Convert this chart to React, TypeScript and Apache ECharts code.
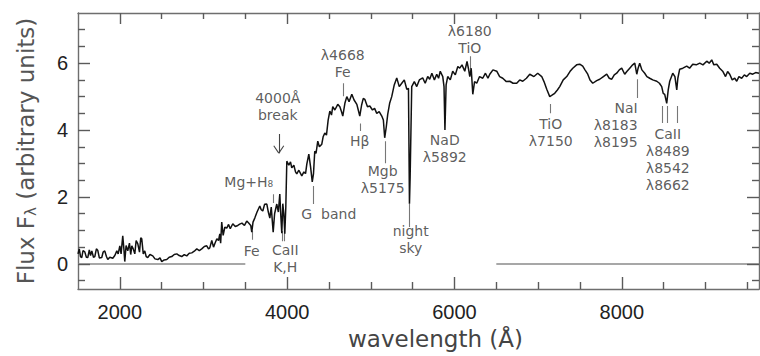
import React, { useEffect, useRef } from "react";
import * as echarts from "echarts";

const X_MIN = 1500;
const X_MAX = 9640;
const Y_MIN = -0.75;
const Y_MAX = 7.5;

const xMajorTicks = [2000, 4000, 6000, 8000];
const xMinorTicks = [2500, 3000, 3500, 4500, 5000, 5500, 6500, 7000, 7500, 8500, 9000, 9500];
const yMajorTicks = [0, 2, 4, 6];
const yMinorTicks = [-0.5, 0.5, 1, 1.5, 2.5, 3, 3.5, 4.5, 5, 5.5, 6.5, 7];

const spectrum: [number, number][] = [
  [1500, 0.3], [1515, 0.45], [1530, 0.22], [1545, 0.19], [1560, 0.4], [1581, 0.36], [1600, 0.2], [1617, 0.19],
  [1635, 0.42], [1650, 0.25], [1665, 0.39], [1685, 0.2], [1701, 0.22], [1720, 0.45], [1737, 0.4], [1755, 0.18],
  [1784, 0.19], [1800, 0.35], [1820, 0.39], [1840, 0.22], [1856, 0.13], [1880, 0.2], [1916, 0.17], [1940, 0.25],
  [1964, 0.39], [1980, 0.3], [2000, 0.54], [2015, 0.3], [2035, 0.84], [2050, 0.4], [2059, 0.07], [2075, 0.55],
  [2095, 0.39], [2115, 0.62], [2130, 0.28], [2143, 0.54], [2160, 0.45], [2179, 0.3], [2195, 0.7], [2215, 0.6],
  [2235, 0.35], [2250, 0.78], [2262, 0.75], [2280, 0.3], [2298, 0.39], [2315, 0.22], [2334, 0.19], [2360, 0.28],
  [2394, 0.24], [2420, 0.15], [2454, 0.13], [2480, 0.18], [2501, 0.07], [2530, 0.12], [2561, 0.13], [2590, 0.2],
  [2621, 0.22], [2650, 0.28], [2681, 0.3], [2710, 0.25], [2740, 0.22], [2770, 0.28], [2800, 0.24], [2830, 0.32],
  [2860, 0.33], [2890, 0.38], [2920, 0.45], [2950, 0.4], [2979, 0.45], [3010, 0.52], [3039, 0.54], [3060, 0.45],
  [3075, 0.48], [3099, 0.7], [3120, 0.5], [3135, 0.6], [3160, 0.75], [3180, 0.7], [3195, 0.9], [3205, 0.62],
  [3218, 1.25], [3235, 0.85], [3255, 1.1], [3278, 1.07], [3300, 1.18], [3320, 1.05], [3350, 1.2], [3380, 1.12],
  [3410, 1.15], [3433, 1.19], [3460, 1.22], [3490, 1.15], [3517, 1.28], [3540, 1.22], [3565, 1.15], [3577, 0.95],
  [3592, 1.25], [3613, 1.37], [3640, 1.55], [3673, 1.73], [3690, 1.62], [3709, 1.58], [3730, 1.78], [3757, 1.79],
  [3775, 1.55], [3793, 1.37], [3810, 1.7], [3822, 1.3], [3833, 0.95], [3850, 1.5], [3876, 1.79], [3895, 1.55],
  [3912, 2.09], [3925, 1.4], [3936, 0.92], [3948, 1.8], [3960, 1.5], [3972, 0.9], [3984, 1.7], [3996, 3.07],
  [4020, 2.95], [4040, 3.05], [4055, 2.87], [4080, 2.95], [4100, 2.75], [4115, 2.69], [4140, 2.8], [4175, 2.63],
  [4200, 2.75], [4220, 2.7], [4235, 2.98], [4259, 3.28], [4280, 2.9], [4300, 2.45], [4315, 2.7], [4330, 3.37],
  [4345, 3.3], [4366, 3.67], [4385, 3.5], [4414, 3.58], [4430, 3.8], [4450, 3.91], [4470, 3.85], [4490, 4.3],
  [4510, 4.57], [4530, 4.45], [4545, 4.7], [4570, 4.6], [4605, 4.77], [4630, 4.7], [4650, 4.55], [4665, 4.42],
  [4690, 4.8], [4713, 5.0], [4740, 4.85], [4773, 5.07], [4800, 4.9], [4833, 4.77], [4850, 4.6], [4868, 4.42],
  [4890, 4.75], [4910, 4.95], [4928, 4.92], [4960, 4.7], [4988, 4.72], [5020, 4.6], [5045, 4.65], [5071, 4.5],
  [5100, 4.55], [5131, 4.42], [5150, 4.3], [5166, 3.77], [5185, 4.1], [5202, 4.47], [5225, 4.8], [5250, 5.0],
  [5280, 5.35], [5310, 5.56], [5340, 5.3], [5370, 5.4], [5400, 5.5], [5430, 5.22], [5450, 5.25], [5462, 1.8],
  [5470, 2.6], [5489, 5.3], [5520, 5.45], [5549, 5.3], [5580, 5.5], [5620, 5.56], [5650, 5.4], [5680, 5.6],
  [5704, 5.52], [5730, 5.7], [5760, 5.5], [5788, 5.67], [5810, 5.55], [5830, 5.76], [5860, 5.6], [5875, 5.3],
  [5886, 4.0], [5900, 5.35], [5919, 5.6], [5950, 5.5], [5979, 5.76], [6010, 5.65], [6040, 5.9], [6063, 5.85],
  [6090, 5.95], [6123, 5.76], [6150, 6.05], [6170, 5.8], [6183, 5.6], [6200, 5.85], [6219, 5.07], [6240, 5.45],
  [6266, 5.4], [6300, 5.6], [6338, 5.55], [6370, 5.7], [6400, 5.55], [6422, 5.67], [6460, 5.8], [6505, 5.76],
  [6540, 5.6], [6577, 5.55], [6620, 5.45], [6661, 5.46], [6700, 5.4], [6744, 5.4], [6780, 5.5], [6816, 5.46],
  [6860, 5.55], [6900, 5.67], [6950, 5.6], [6995, 5.7], [7043, 5.6], [7070, 5.45], [7103, 5.22], [7139, 5.0],
  [7170, 5.05], [7198, 5.1], [7230, 5.2], [7258, 5.3], [7300, 5.5], [7342, 5.6], [7380, 5.75], [7414, 5.85],
  [7460, 5.95], [7497, 5.97], [7533, 5.91], [7560, 5.8], [7593, 5.67], [7620, 5.5], [7653, 5.4], [7700, 5.48],
  [7736, 5.52], [7780, 5.6], [7820, 5.67], [7850, 5.55], [7880, 5.52], [7910, 5.65], [7939, 5.7], [7970, 5.8],
  [7999, 5.85], [8035, 5.67], [8060, 5.75], [8095, 5.85], [8130, 5.95], [8155, 6.0], [8179, 5.67], [8195, 5.85],
  [8214, 6.0], [8240, 5.8], [8274, 5.7], [8300, 5.6], [8334, 5.55], [8370, 5.5], [8418, 5.46], [8450, 5.4],
  [8477, 5.3], [8495, 5.1], [8513, 5.07], [8537, 4.8], [8555, 5.2], [8573, 5.46], [8609, 5.7], [8635, 5.6],
  [8657, 5.2], [8670, 5.55], [8692, 5.82], [8730, 5.85], [8776, 5.91], [8810, 5.85], [8848, 5.97], [8890, 5.95],
  [8932, 6.0], [8970, 5.95], [9015, 6.06], [9045, 6.0], [9075, 6.1], [9100, 5.95], [9135, 5.97], [9170, 5.85],
  [9206, 5.76], [9240, 5.6], [9265, 5.75], [9290, 5.67], [9320, 5.5], [9350, 5.55], [9374, 5.46], [9400, 5.6],
  [9433, 5.55], [9465, 5.65], [9493, 5.6], [9530, 5.7], [9565, 5.67], [9600, 5.72], [9640, 5.7],
];

// zero-level reference segments [from, to] in wavelength
const zeroSegments: [number, number][] = [[1500, 3500], [6500, 9640]];

// feature tick marks: [wavelength, top flux, bottom flux]
const featureMarks: [number, number, number][] = [
  [3577, 1.0, 0.72],
  [3833, 2.08, 1.82],
  [3936, 0.98, 0.68],
  [3971, 0.98, 0.68],
  [4306, 2.33, 1.79],
  [4665, 5.4, 5.01],
  [4868, 4.2, 3.97],
  [5175, 3.67, 3.01],
  [5465, 1.8, 1.1],
  [6183, 6.21, 5.82],
  [7150, 4.78, 4.5],
  [8190, 5.52, 4.96],
  [8489, 4.72, 4.21],
  [8542, 4.72, 4.21],
  [8662, 4.72, 4.21],
];

// 4000 Å break arrow: [wavelength, top, bottom]
const breakArrow: [number, number, number] = [3900, 3.88, 3.31];

const annotations: { text: string; x: number; y: number; align?: string }[] = [
  { text: "Mg+H\u2088", x: 3541, y: 2.45 },
  { text: "Fe", x: 3577, y: 0.39 },
  { text: "CaII\nK,H", x: 3977, y: 0.16 },
  { text: "4000Å\nbreak", x: 3888, y: 4.72 },
  { text: "G  band", x: 4498, y: 1.49 },
  { text: "λ4668\nFe", x: 4665, y: 5.99 },
  { text: "Hβ", x: 4868, y: 3.67 },
  { text: "Mgb\nλ5175", x: 5142, y: 2.52 },
  { text: "night\nsky", x: 5477, y: 0.72 },
  { text: "NaD\nλ5892", x: 5884, y: 3.46 },
  { text: "λ6180\nTiO", x: 6183, y: 6.7 },
  { text: "TiO\nλ7150", x: 7151, y: 3.93 },
  { text: "NaI\nλ8183\nλ8195", x: 8190, y: 4.16, align: "right" },
  { text: "CaII\nλ8489\nλ8542\nλ8662", x: 8550, y: 3.13 },
];

const FRAME = "#6e6e6e";
const TICK = "#5a5a5a";
// plot area in pixels, used only to turn tick lengths (px) into axis units
const PLOT_W = 681;
const PLOT_H = 276;

export default function App() {
  const ref = useRef<HTMLDivElement>(null);

  useEffect(() => {
    if (!ref.current) return;
    document.body.style.margin = "0";
    const chart = echarts.init(ref.current, undefined, { renderer: "svg" });

    const ux = (X_MAX - X_MIN) / PLOT_W;
    const uy = (Y_MAX - Y_MIN) / PLOT_H;

    const frameTicks: any[] = [];
    xMajorTicks.forEach((v) => {
      frameTicks.push({ coords: [[v, Y_MIN], [v, Y_MIN + 12 * uy]] });
      frameTicks.push({ coords: [[v, Y_MAX], [v, Y_MAX - 11 * uy]] });
    });
    xMinorTicks.forEach((v) => {
      frameTicks.push({ coords: [[v, Y_MIN], [v, Y_MIN + 7 * uy]] });
      frameTicks.push({ coords: [[v, Y_MAX], [v, Y_MAX - 6 * uy]] });
    });
    yMajorTicks.forEach((v) => {
      frameTicks.push({ coords: [[X_MIN, v], [X_MIN + 12 * ux, v]] });
      frameTicks.push({ coords: [[X_MAX, v], [X_MAX - 12 * ux, v]] });
    });
    yMinorTicks.forEach((v) => {
      frameTicks.push({ coords: [[X_MIN, v], [X_MIN + 7 * ux, v]] });
      frameTicks.push({ coords: [[X_MAX, v], [X_MAX - 7 * ux, v]] });
    });

    const markLines = featureMarks.map(([x, y1, y2]) => ({ coords: [[x, y1], [x, y2]] }));
    const [ax, aTop, aBot] = breakArrow;
    const arrowLines = [
      { coords: [[ax, aTop], [ax, aBot]] },
      { coords: [[ax - 60, aBot + 0.22], [ax, aBot]] },
      { coords: [[ax + 60, aBot + 0.22], [ax, aBot]] },
    ];
    const zeroLines = zeroSegments.map(([a, b]) => ({ coords: [[a, 0], [b, 0]] }));
    const frameLine = { show: true, onZero: false, lineStyle: { color: FRAME, width: 1.4 } };
    const tickFont = { fontFamily: "Liberation Sans", fontSize: 20, color: "#222" };

    chart.setOption({
      animation: false,
      grid: { left: 78, right: 1, top: 13, bottom: 67, containLabel: false, outerBoundsMode: "none" },
      xAxis: [
        {
          type: "value",
          position: "bottom",
          min: X_MIN,
          max: X_MAX,
          name: "wavelength (Å)",
          nameLocation: "middle",
          nameGap: 38,
          nameTextStyle: { fontFamily: "DejaVu Sans", fontSize: 23, color: "#444", padding: [0, 0, 0, 34] },
          axisLine: frameLine,
          axisTick: { show: false },
          axisLabel: {
            show: true,
            customValues: xMajorTicks,
            margin: 13,
            formatter: (v: number) => String(v),
            ...tickFont,
          },
          splitLine: { show: false },
        },
        {
          type: "value",
          position: "top",
          min: X_MIN,
          max: X_MAX,
          axisLine: frameLine,
          axisTick: { show: false },
          axisLabel: { show: false },
          splitLine: { show: false },
        },
      ],
      yAxis: [
        {
          type: "value",
          position: "left",
          min: Y_MIN,
          max: Y_MAX,
          name: "{t|Flux F}{s|λ}{t| (arbitrary units)}",
          nameLocation: "middle",
          nameRotate: 90,
          nameGap: 40,
          nameTextStyle: {
            color: "#555",
            rich: {
              t: { fontFamily: "DejaVu Sans", fontSize: 23, color: "#555" },
              s: { fontFamily: "DejaVu Sans", fontSize: 15, color: "#555", padding: [10, 0, 0, 0] },
            },
          },
          axisLine: frameLine,
          axisTick: { show: false },
          axisLabel: {
            show: true,
            customValues: yMajorTicks,
            margin: 10,
            formatter: (v: number) => String(v),
            ...tickFont,
          },
          splitLine: { show: false },
        },
        {
          type: "value",
          position: "right",
          min: Y_MIN,
          max: Y_MAX,
          axisLine: frameLine,
          axisTick: { show: false },
          axisLabel: { show: false },
          splitLine: { show: false },
        },
      ],
      series: [
        {
          type: "lines",
          coordinateSystem: "cartesian2d",
          xAxisIndex: 0,
          yAxisIndex: 0,
          silent: true,
          clip: false,
          z: 10,
          lineStyle: { color: TICK, width: 1.4, opacity: 1 },
          data: frameTicks,
        },
        {
          type: "lines",
          coordinateSystem: "cartesian2d",
          xAxisIndex: 0,
          yAxisIndex: 0,
          silent: true,
          lineStyle: { color: "#8a8a8a", width: 1.6, opacity: 1 },
          data: zeroLines,
        },
        {
          type: "line",
          xAxisIndex: 0,
          yAxisIndex: 0,
          silent: true,
          showSymbol: false,
          symbol: "none",
          lineStyle: { color: "#111", width: 1.5 },
          data: spectrum,
        },
        {
          type: "lines",
          coordinateSystem: "cartesian2d",
          xAxisIndex: 0,
          yAxisIndex: 0,
          silent: true,
          lineStyle: { color: "#777", width: 1.1, opacity: 1 },
          data: markLines,
        },
        {
          type: "lines",
          coordinateSystem: "cartesian2d",
          xAxisIndex: 0,
          yAxisIndex: 0,
          silent: true,
          lineStyle: { color: "#444", width: 1.1, opacity: 1 },
          data: arrowLines,
        },
        {
          type: "scatter",
          xAxisIndex: 0,
          yAxisIndex: 0,
          silent: true,
          symbol: "circle",
          symbolSize: 1,
          itemStyle: { color: "rgba(0,0,0,0)" },
          label: {
            show: true,
            position: "inside",
            fontFamily: "DejaVu Sans",
            fontSize: 14,
            lineHeight: 17,
            color: "#333",
            formatter: (p: any) => p.name,
          },
          labelLayout: { hideOverlap: false },
          data: annotations.map((a) => ({
            name: a.text,
            value: [a.x, a.y],
            label: a.align ? { align: a.align } : undefined,
          })),
        },
      ],
    });

    return () => chart.dispose();
  }, []);

  return (
    <div
      ref={ref}
      style={{ position: "absolute", left: 0, top: 0, width: 760, height: 356 }}
    />
  );
}
